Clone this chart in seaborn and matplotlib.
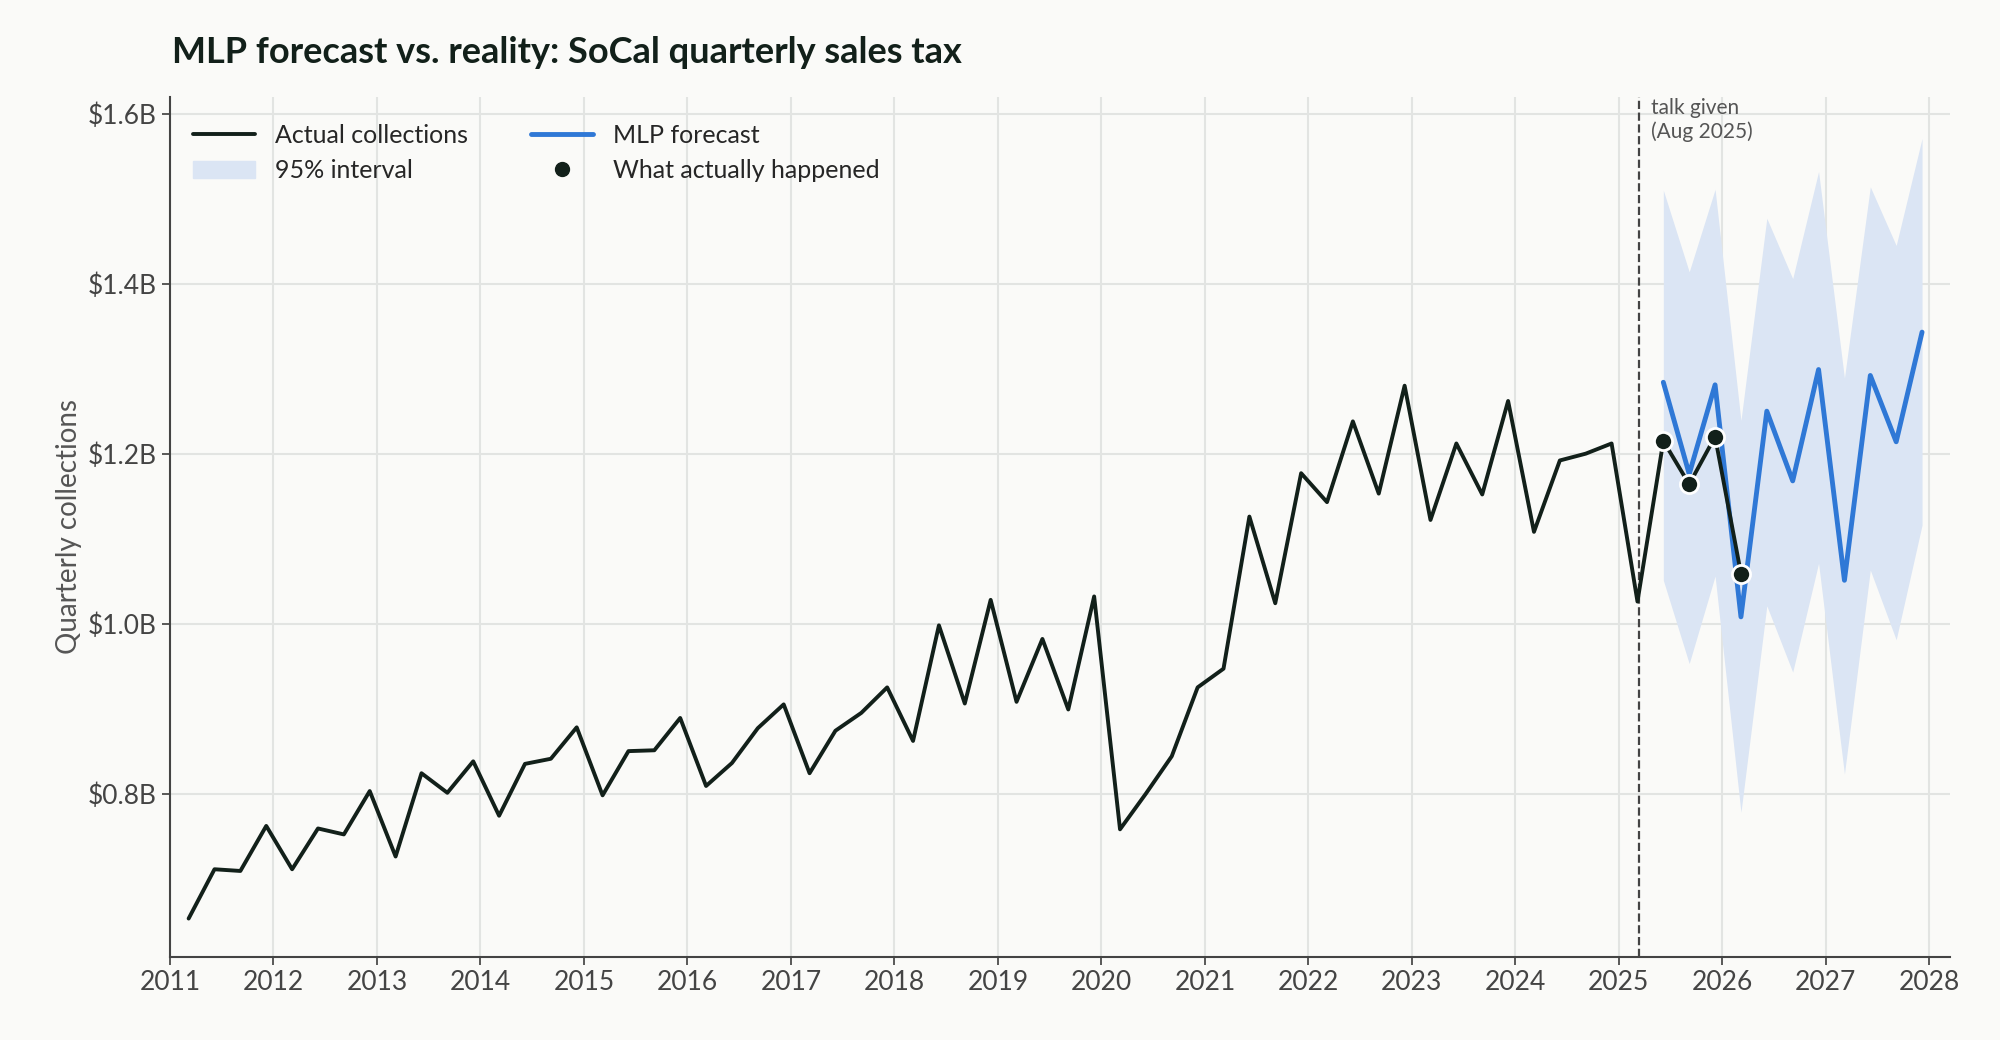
import numpy as np
import pandas as pd
import seaborn as sns
import matplotlib.pyplot as plt
from matplotlib.lines import Line2D
from matplotlib.patches import Patch

actual = [0.653, 0.711, 0.709, 0.762, 0.711, 0.759, 0.752, 0.803,
          0.726, 0.824, 0.801, 0.838, 0.774, 0.835, 0.841, 0.878,
          0.798, 0.850, 0.851, 0.889, 0.809, 0.836, 0.877, 0.905,
          0.824, 0.874, 0.895, 0.925, 0.862, 0.998, 0.906, 1.028,
          0.908, 0.982, 0.899, 1.032, 0.758, 0.800, 0.844, 0.925,
          0.947, 1.126, 1.024, 1.177, 1.143, 1.238, 1.153, 1.280,
          1.122, 1.212, 1.152, 1.262, 1.108, 1.192, 1.200, 1.212,
          1.026, 1.215, 1.164, 1.220, 1.059]
forecast = [1.284, 1.176, 1.281, 1.008, 1.250, 1.168, 1.299, 1.051, 1.292, 1.214, 1.343]
upper = [1.510, 1.414, 1.511, 1.239, 1.477, 1.406, 1.532, 1.289, 1.514, 1.445, 1.571]
lower = [1.051, 0.953, 1.056, 0.778, 1.021, 0.943, 1.071, 0.823, 1.063, 0.981, 1.116]
n_known_before_talk = 57
talk_date = 2025.19

t_act = 2011.18 + 0.25 * np.arange(len(actual))
t_fc = t_act[n_known_before_talk] + 0.25 * np.arange(len(forecast))
act_df = pd.DataFrame({"t": t_act, "v": actual})
fc_df = pd.DataFrame({"t": t_fc, "v": forecast, "lo": lower, "hi": upper})
after_df = act_df.iloc[n_known_before_talk:]

sns.set_theme(style="whitegrid")
plt.rcParams["font.family"] = ["Lato", "DejaVu Sans"]
bg = "#fafaf8"
dark = "#12201a"
blue = "#2f78d6"

fig, ax = plt.subplots(figsize=(20, 10.4), dpi=100)
fig.patch.set_facecolor(bg)
ax.set_facecolor(bg)

ax.fill_between(fc_df.t, fc_df.lo, fc_df.hi, color="#dbe5f4", lw=0, zorder=1)
sns.lineplot(data=fc_df, x="t", y="v", color=blue, lw=3.5, ax=ax, zorder=3)
sns.lineplot(data=act_df, x="t", y="v", color=dark, lw=2.8, ax=ax, zorder=4)
sns.scatterplot(data=after_df, x="t", y="v", color=dark, s=170, edgecolor="white",
                linewidth=2, ax=ax, zorder=5)
ax.axvline(talk_date, color="#444", ls="--", lw=1.6, zorder=2)
ax.text(talk_date + 0.12, 1.618, "talk given\n(Aug 2025)", fontsize=15, color="#555",
        va="top", ha="left")

ax.set_xlim(2011, 2028.2)
ax.set_ylim(0.608, 1.62)
ax.set_xticks(range(2011, 2029))
ax.set_yticks([0.8, 1.0, 1.2, 1.4, 1.6])
ax.set_yticklabels([f"${v:.1f}B" for v in [0.8, 1.0, 1.2, 1.4, 1.6]])
ax.tick_params(labelsize=19, colors="#444", length=6, color="#444", bottom=True, left=True)
ax.set_xlabel("")
ax.set_ylabel("Quarterly collections", fontsize=20, color="#555")
ax.grid(color="#e2e4e2", lw=1.5)
for s in ["top", "right"]:
    ax.spines[s].set_visible(False)
for s in ["left", "bottom"]:
    ax.spines[s].set_color("#444")
    ax.spines[s].set_linewidth(1.5)

handles = [Line2D([], [], color=dark, lw=2.8), Patch(color="#dbe5f4"),
           Line2D([], [], color=blue, lw=3.5),
           Line2D([], [], color=dark, marker="o", ls="", ms=10)]
labels = ["Actual collections", "95% interval", "MLP forecast", "What actually happened"]
ax.legend(handles, labels, ncol=2, loc="upper left", frameon=False, fontsize=18,
          columnspacing=2.5, handlelength=2.5, bbox_to_anchor=(0.0, 0.995))

fig.suptitle("MLP forecast vs. reality: SoCal quarterly sales tax", x=0.086, y=0.965,
             ha="left", fontsize=26, fontweight="bold", color=dark)
fig.subplots_adjust(left=0.085, right=0.975, top=0.907, bottom=0.08)
fig.savefig("out.png", facecolor=bg)
